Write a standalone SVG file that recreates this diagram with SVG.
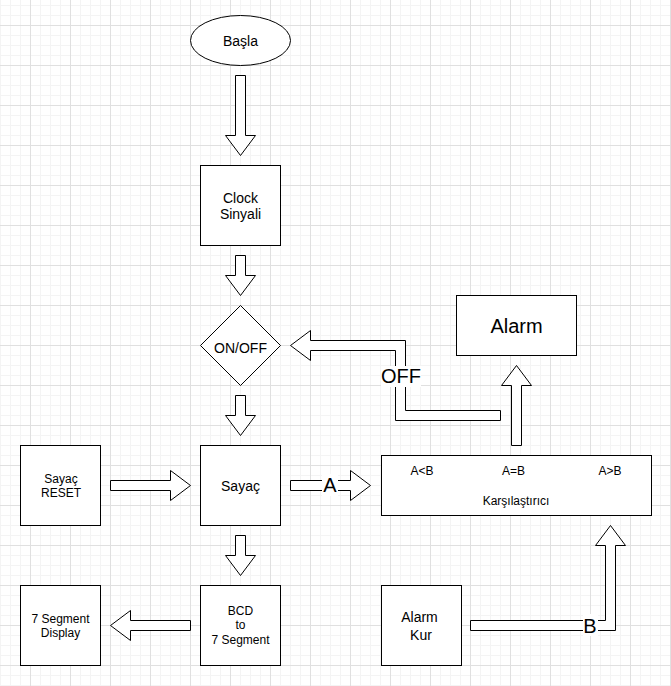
<svg xmlns="http://www.w3.org/2000/svg" width="671" height="686" viewBox="0 0 671 686">
  <defs>
    <!-- background grid: fine 10px lines, stronger line every 40px -->
    <pattern id="grid" x="30" y="25" width="40" height="40" patternUnits="userSpaceOnUse">
      <rect width="40" height="40" fill="#ffffff"/>
      <g fill="#f4f4f4">
        <rect x="10" y="0" width="1" height="40"/>
        <rect x="20" y="0" width="1" height="40"/>
        <rect x="30" y="0" width="1" height="40"/>
        <rect x="0" y="10" width="40" height="1"/>
        <rect x="0" y="20" width="40" height="1"/>
        <rect x="0" y="30" width="40" height="1"/>
      </g>
      <g fill="#e0e0e0">
        <rect x="0" y="0" width="1" height="40"/>
        <rect x="0" y="0" width="40" height="1"/>
      </g>
    </pattern>
    <style>
      .box { fill: #ffffff; stroke: #000000; stroke-width: 1; }
      .arrow { fill: #ffffff; stroke: #000000; stroke-width: 1; stroke-linejoin: miter; }
      .t { font-family: "Liberation Sans", Arial, Helvetica, sans-serif; fill: #000000; text-anchor: middle; }
      .s12 { font-size: 12px; }
      .s14 { font-size: 14px; }
      .s20 { font-size: 20px; }
      .lblbg { fill: #ffffff; }
    </style>
  </defs>

  <rect x="0" y="0" width="671" height="686" fill="url(#grid)"/>

  <!-- connectors: block arrows -->
  <g id="connectors">
    <polygon class="arrow" points="235.5,75.5 245.5,75.5 245.5,135.5 255.5,135.5 240.5,155.5 225.5,135.5 235.5,135.5"/>
    <polygon class="arrow" points="235.5,255.5 245.5,255.5 245.5,275.5 255.5,275.5 240.5,295.5 225.5,275.5 235.5,275.5"/>
    <polygon class="arrow" points="235.5,395.5 245.5,395.5 245.5,415.5 255.5,415.5 240.5,435.5 225.5,415.5 235.5,415.5"/>
    <polygon class="arrow" points="235.5,535.5 245.5,535.5 245.5,555.5 255.5,555.5 240.5,575.5 225.5,555.5 235.5,555.5"/>
    <polygon class="arrow" points="110.5,480.5 170.5,480.5 170.5,470.5 190.5,485.5 170.5,500.5 170.5,490.5 110.5,490.5"/>
    <polygon class="arrow" points="290.5,480.5 350.5,480.5 350.5,470.5 370.5,485.5 350.5,500.5 350.5,490.5 290.5,490.5"/>
    <polygon class="arrow" points="190.5,620.5 130.5,620.5 130.5,610.5 110.5,625.5 130.5,640.5 130.5,630.5 190.5,630.5"/>
    <polygon class="arrow" points="511.5,445.5 511.5,385.5 501.5,385.5 516.5,365.5 531.5,385.5 521.5,385.5 521.5,445.5"/>
    <polygon class="arrow" points="500.5,410.5 405.5,410.5 405.5,340.5 310.5,340.5 310.5,330.5 290.5,345.5 310.5,360.5 310.5,350.5 395.5,350.5 395.5,420.5 500.5,420.5"/>
    <polygon class="arrow" points="470.5,620.5 605.5,620.5 605.5,545.5 595.5,545.5 610.5,525.5 625.5,545.5 615.5,545.5 615.5,630.5 470.5,630.5"/>

    <!-- connector labels -->
    <rect class="lblbg" x="381" y="366" width="40" height="21"/>
    <text class="t s20" x="401" y="383">OFF</text>
    <rect class="lblbg" x="322" y="474" width="16" height="22"/>
    <text class="t s20" x="330" y="492">A</text>
    <rect class="lblbg" x="583" y="614" width="15" height="22"/>
    <text class="t s20" x="590" y="633">B</text>
  </g>

  <g id="basla">
    <ellipse class="box" cx="240.5" cy="40.5" rx="50" ry="25"/>
    <text class="t s14" x="240.5" y="46">Başla</text>
  </g>

  <g id="clock">
    <rect class="box" x="200.5" y="165.5" width="80" height="80"/>
    <text class="t s14" x="240.5" y="202.5">Clock</text>
    <text class="t s14" x="240.5" y="219">Sinyali</text>
  </g>

  <g id="onoff">
    <polygon class="box" points="240.5,305.5 280.5,345.5 240.5,385.5 200.5,345.5"/>
    <text class="t s14" x="240.5" y="353">ON/OFF</text>
  </g>

  <g id="alarm">
    <rect class="box" x="456.5" y="295.5" width="120" height="60"/>
    <text class="t s20" x="516.5" y="333">Alarm</text>
  </g>

  <g id="sayac-reset">
    <rect class="box" x="20.5" y="445.5" width="80" height="80"/>
    <text class="t s12" x="61" y="482.5">Sayaç</text>
    <text class="t s12" x="61" y="497">RESET</text>
  </g>

  <g id="sayac">
    <rect class="box" x="200.5" y="445.5" width="80" height="80"/>
    <text class="t s14" x="240.5" y="491">Sayaç</text>
  </g>

  <g id="karsilastirici">
    <rect class="box" x="381.5" y="455.5" width="270" height="60"/>
    <text class="t s12" x="422" y="475">A&lt;B</text>
    <text class="t s12" x="513.5" y="475">A=B</text>
    <text class="t s12" x="610" y="475">A&gt;B</text>
    <text class="t s12" x="516" y="504.5">Karşılaştırıcı</text>
  </g>

  <g id="display">
    <rect class="box" x="20.5" y="585.5" width="80" height="80"/>
    <text class="t s12" x="60.5" y="622.5">7 Segment</text>
    <text class="t s12" x="60.5" y="637">Display</text>
  </g>

  <g id="bcd">
    <rect class="box" x="200.5" y="585.5" width="80" height="80"/>
    <text class="t s12" x="240.5" y="614.5">BCD</text>
    <text class="t s12" x="240.5" y="629">to</text>
    <text class="t s12" x="240.5" y="643.5">7 Segment</text>
  </g>

  <g id="alarm-kur">
    <rect class="box" x="381.5" y="585.5" width="80" height="80"/>
    <text class="t s14" x="419.5" y="622">Alarm</text>
    <text class="t s14" x="421" y="640">Kur</text>
  </g>
</svg>
